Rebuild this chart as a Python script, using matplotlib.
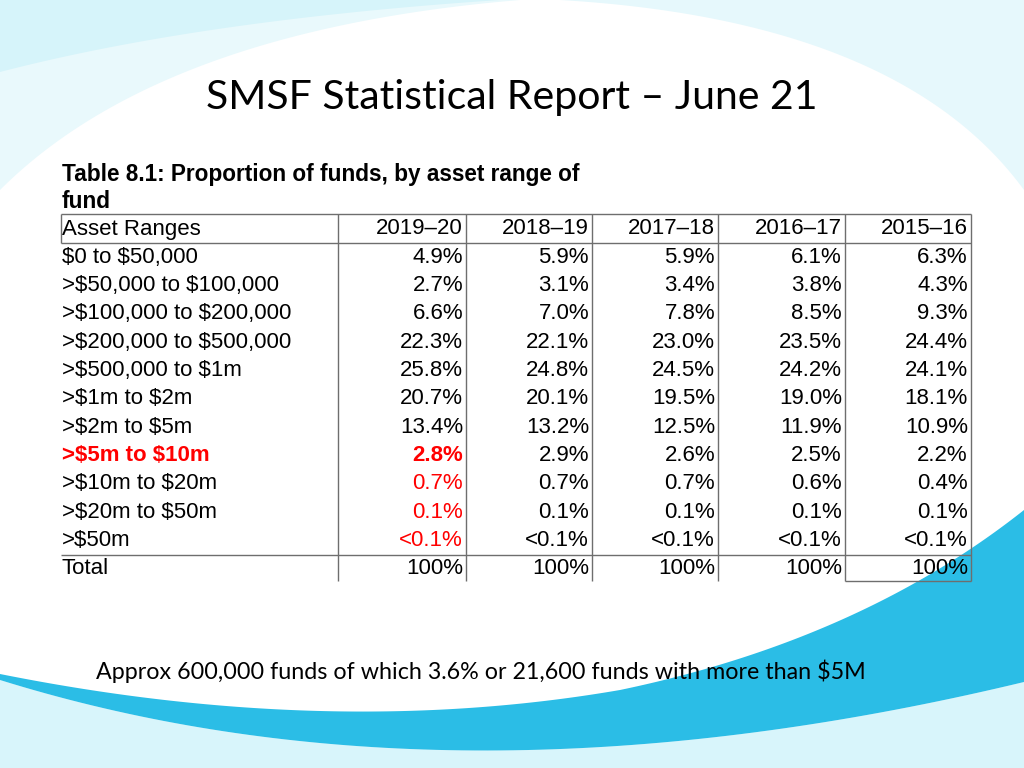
"""
SMSF statistical report slide - Table 8.1 proportion of funds by asset range.
"""
import matplotlib
matplotlib.use('Agg')
import matplotlib.pyplot as plt
import numpy as np

plt.rcParams['text.parse_math'] = False

TITLE = 'SMSF Statistical Report – June 21'
TABLE_CAPTION = ['Table 8.1: Proportion of funds, by asset range of', 'fund']
FOOTNOTE = 'Approx 600,000 funds of which 3.6% or 21,600 funds with more than $5M'

HEADER_LABEL = 'Asset Ranges'
YEARS = ['2019–20', '2018–19', '2017–18', '2016–17', '2015–16']
ASSET_RANGES = ['$0 to $50,000', '>$50,000 to $100,000', '>$100,000 to $200,000',
                '>$200,000 to $500,000', '>$500,000 to $1m', '>$1m to $2m',
                '>$2m to $5m', '>$5m to $10m', '>$10m to $20m', '>$20m to $50m',
                '>$50m']
V_2019_20 = ['4.9%', '2.7%', '6.6%', '22.3%', '25.8%', '20.7%', '13.4%', '2.8%', '0.7%', '0.1%', '<0.1%']
V_2018_19 = ['5.9%', '3.1%', '7.0%', '22.1%', '24.8%', '20.1%', '13.2%', '2.9%', '0.7%', '0.1%', '<0.1%']
V_2017_18 = ['5.9%', '3.4%', '7.8%', '23.0%', '24.5%', '19.5%', '12.5%', '2.6%', '0.7%', '0.1%', '<0.1%']
V_2016_17 = ['6.1%', '3.8%', '8.5%', '23.5%', '24.2%', '19.0%', '11.9%', '2.5%', '0.6%', '0.1%', '<0.1%']
V_2015_16 = ['6.3%', '4.3%', '9.3%', '24.4%', '24.1%', '18.1%', '10.9%', '2.2%', '0.4%', '0.1%', '<0.1%']
TOTAL_LABEL = 'Total'
TOTALS = ['100%', '100%', '100%', '100%', '100%']

# row shown bold red, and rows whose 2019-20 value is red
HIGHLIGHT_ROW = 7
RED_FIRST_COL_ROWS = [7, 8, 9, 10]

RED = '#ff0000'
LINE = '#6e6e6e'
TABLE_FONT = 'Liberation Sans'
SLIDE_FONT = 'Lato'


def bezier(p0, p1, p2, n=80):
    t = np.linspace(0, 1, n)[:, None]
    p0, p1, p2 = map(np.array, (p0, p1, p2))
    return (1 - t) ** 2 * p0 + 2 * (1 - t) * t * p1 + t ** 2 * p2


def draw_background(ax):
    ax.add_patch(plt.Rectangle((0, 0), 1024, 768, color='white', zorder=0))
    # top-left light cyan wedges
    top = bezier((0, 190), (160, 30), (520, 0))
    poly = np.vstack([[(0, 0)], top])
    ax.fill(poly[:, 0], poly[:, 1], color='#e9f9fc', zorder=0.5, lw=0)
    top2 = bezier((0, 72), (200, 20), (500, 0))
    poly = np.vstack([[(0, 0)], top2])
    ax.fill(poly[:, 0], poly[:, 1], color='#d6f4fa', zorder=0.6, lw=0)
    # top-right band
    right = bezier((560, 0), (900, 20), (1024, 190))
    poly = np.vstack([right, [(1024, 0)]])
    ax.fill(poly[:, 0], poly[:, 1], color='#e6f8fc', zorder=0.6, lw=0)

    # bottom swoosh: light cyan under, blue band
    lower = bezier((0, 680), (450, 820), (1024, 682))
    poly = np.vstack([lower, [(1024, 768), (0, 768)]])
    ax.fill(poly[:, 0], poly[:, 1], color='#d8f5fb', zorder=0.7, lw=0)
    upper = np.vstack([bezier((0, 674), (330, 740), (620, 690)),
                       bezier((620, 690), (860, 640), (1024, 510))])
    band = np.vstack([upper, lower[::-1]])
    ax.fill(band[:, 0], band[:, 1], color='#2bbde6', zorder=0.8, lw=0)


def fit_width(fig, txt, width):
    """Rescale a text's font size so it spans the given pixel width."""
    r = fig.canvas.get_renderer()
    w = txt.get_window_extent(renderer=r).width
    txt.set_fontsize(txt.get_fontsize() * width / w)


def draw_table(ax):
    col_edges = [61, 338, 466, 592, 718, 845, 971]
    header_y = 229
    row_h = 28.33
    fs = 16

    columns = [V_2019_20, V_2018_19, V_2017_18, V_2016_17, V_2015_16]
    n = len(ASSET_RANGES)
    row_y = [header_y + row_h * (i + 1) for i in range(n)]
    total_y = header_y + row_h * (n + 1)

    # header
    ax.text(col_edges[0] + 1, header_y, HEADER_LABEL, fontsize=fs, family=TABLE_FONT,
            ha='left', va='center', zorder=3)
    for j, yr in enumerate(YEARS):
        ax.text(col_edges[j + 2] - 3, header_y, yr, fontsize=fs, family=TABLE_FONT,
                ha='right', va='center', zorder=3)

    for i, label in enumerate(ASSET_RANGES):
        hl = i == HIGHLIGHT_ROW
        ax.text(col_edges[0] + 1, row_y[i], label, fontsize=fs, family=TABLE_FONT,
                ha='left', va='center', color=RED if hl else 'black',
                fontweight='bold' if hl else 'normal', zorder=3)
        for j, col in enumerate(columns):
            red = j == 0 and i in RED_FIRST_COL_ROWS
            ax.text(col_edges[j + 2] - 3, row_y[i], col[i], fontsize=fs, family=TABLE_FONT,
                    ha='right', va='center', color=RED if red else 'black',
                    fontweight='bold' if (red and hl) else 'normal', zorder=3)

    ax.text(col_edges[0] + 1, total_y, TOTAL_LABEL, fontsize=fs, family=TABLE_FONT,
            ha='left', va='center', zorder=3)
    for j, tot in enumerate(TOTALS):
        ax.text(col_edges[j + 2] - 3, total_y, tot, fontsize=fs, family=TABLE_FONT,
                ha='right', va='center', zorder=3)

    # grid lines
    top = header_y - row_h / 2 - 0.5
    head_bot = header_y + row_h / 2
    total_top = total_y - row_h / 2 + 0.5
    bottom = total_y + row_h / 2 - 2
    kw = dict(color=LINE, lw=1.0, zorder=2)
    ax.hlines([top, head_bot, total_top], col_edges[0], col_edges[-1], **kw)
    ax.vlines(col_edges[0], top, head_bot, **kw)
    ax.vlines(col_edges[1:], top, bottom, **kw)
    ax.hlines(bottom, col_edges[-2], col_edges[-1], **kw)


def main():
    fig = plt.figure(figsize=(10.24, 7.68), dpi=100)
    ax = fig.add_axes([0, 0, 1, 1])
    ax.set_xlim(0, 1024)
    ax.set_ylim(768, 0)
    ax.axis('off')

    draw_background(ax)

    title = ax.text(512, 97, TITLE, fontsize=30, family=SLIDE_FONT,
                    ha='center', va='center', zorder=3)
    fit_width(fig, title, 610)

    cap1 = ax.text(62, 174, TABLE_CAPTION[0], fontsize=15, fontweight='bold',
                   family=TABLE_FONT, ha='left', va='center', zorder=3)
    fit_width(fig, cap1, 520)
    ax.text(62, 201, TABLE_CAPTION[1], fontsize=cap1.get_fontsize(), fontweight='bold',
            family=TABLE_FONT, ha='left', va='center', zorder=3)

    draw_table(ax)

    foot = ax.text(96, 671, FOOTNOTE, fontsize=20, family=SLIDE_FONT,
                   ha='left', va='center', zorder=3)
    fit_width(fig, foot, 768)

    fig.savefig('out.png', dpi=100)
    plt.close(fig)


if __name__ == '__main__':
    main()
